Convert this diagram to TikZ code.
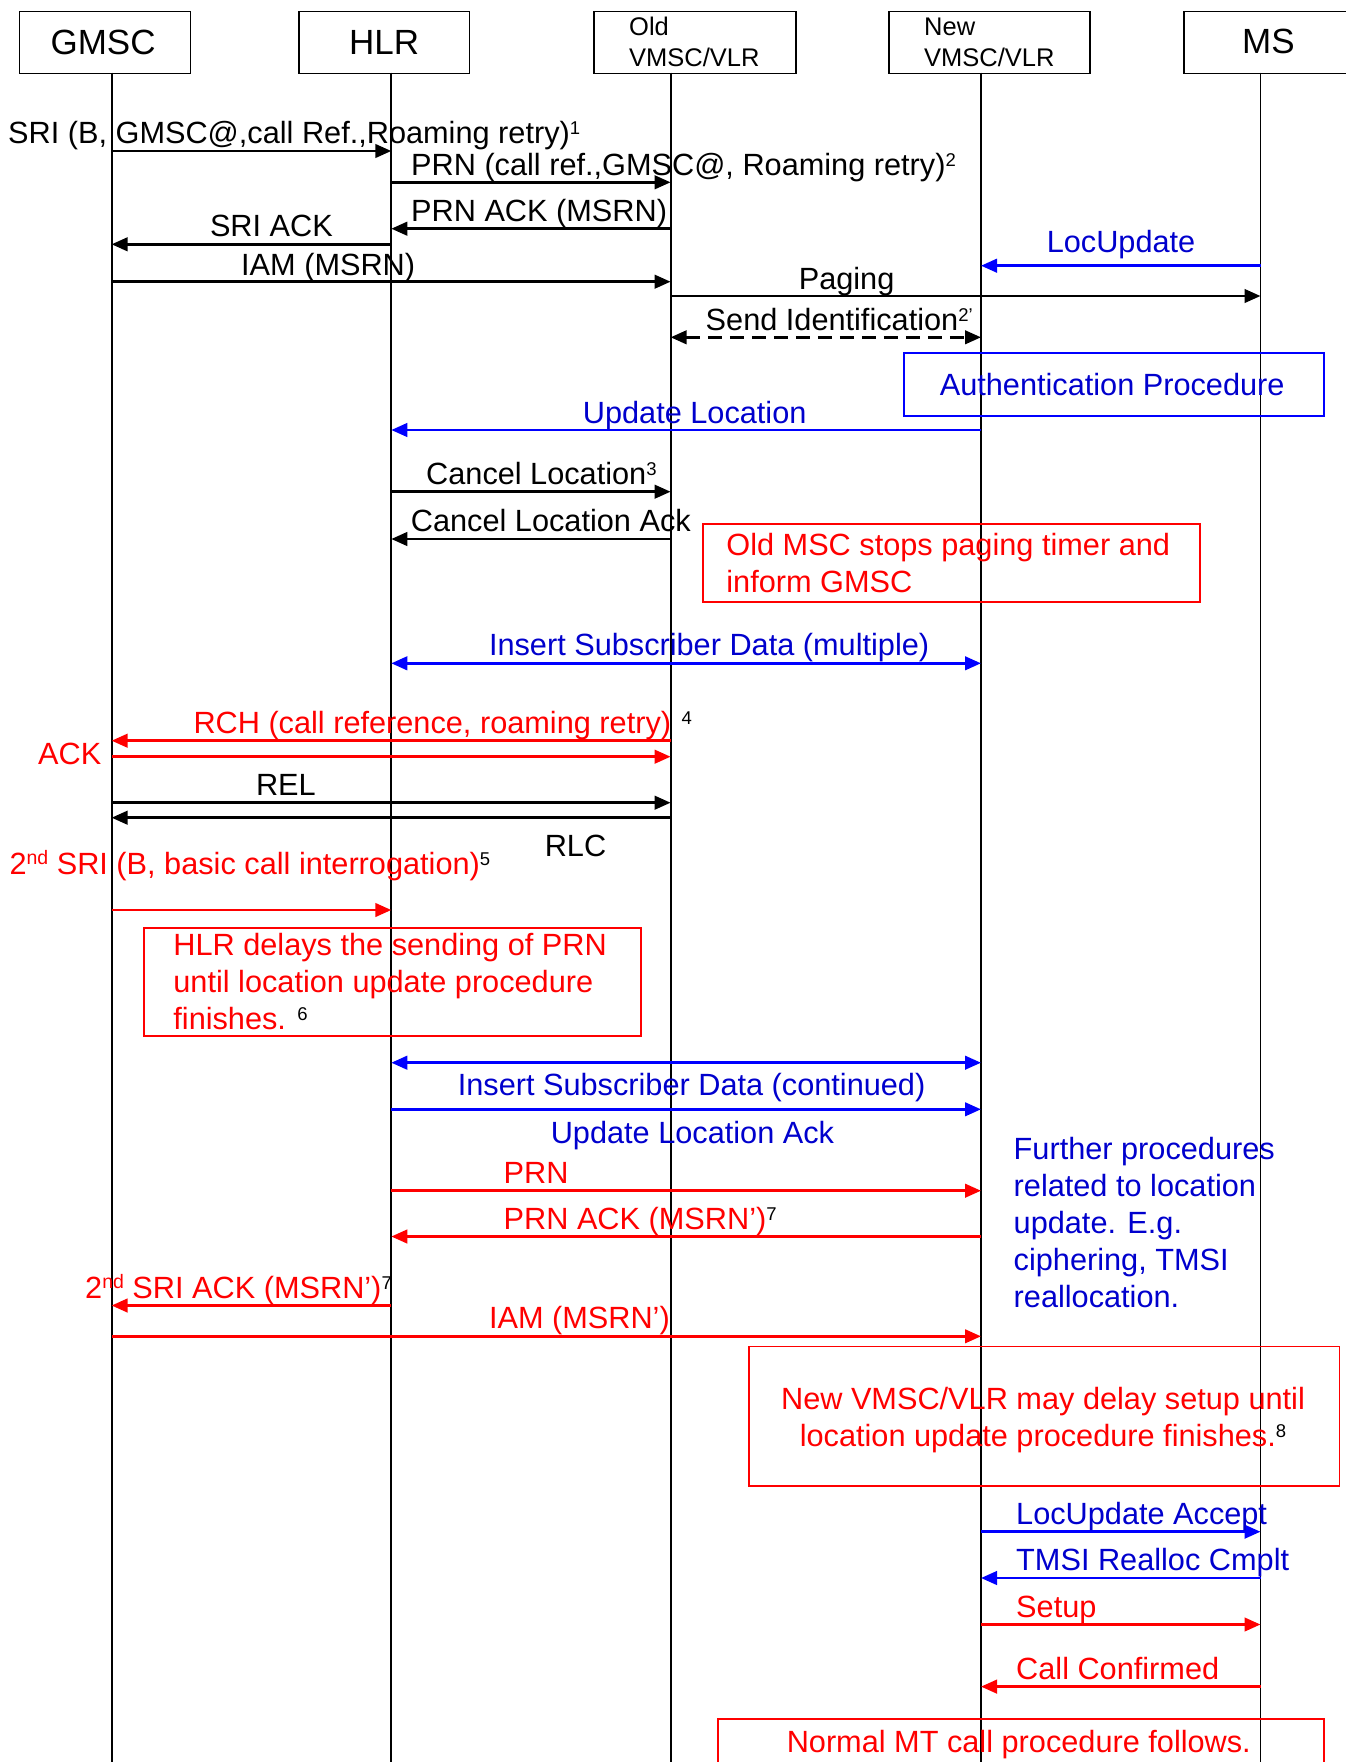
\documentclass[tikz,border=0pt]{standalone}
\usepackage{fontspec}
\setmainfont{Liberation Sans}
\usetikzlibrary{arrows.meta}
\definecolor{sigred}{RGB}{255,0,0}
\definecolor{sigblue}{RGB}{0,0,255}
\definecolor{txtblue}{RGB}{0,0,205}
% footnote marks and ordinal suffix
\newcommand\fnote[1]{\raisebox{9pt}{\fontsize{18.5}{18.5}\selectfont\color{black}#1}}
\newcommand\ordnd{\raisebox{10pt}{\fontsize{19.5}{19.5}\selectfont nd}}
\begin{document}
\begin{tikzpicture}[x=1pt,y=-1pt,
  entity/.style={draw, line width=1.7pt, inner sep=0, anchor=north west},
  title/.style={anchor=base west, inner sep=0, font=\fontsize{35}{40}\selectfont},
  subtitle/.style={anchor=base west, inner sep=0, font=\fontsize{25.5}{30}\selectfont},
  lbl/.style={anchor=base west, inner sep=0, font=\fontsize{30.7}{36}\selectfont},
  clbl/.style={lbl, anchor=base},
  redtxt/.style={text=sigred},
  bluetxt/.style={text=txtblue},
  lifeline/.style={line width=1.8pt},
  sig/.style={line width=2.7pt, -{Triangle[length=16pt,width=13.5pt]}},
  sigboth/.style={line width=2.7pt, {Triangle[length=16pt,width=13.5pt]}-{Triangle[length=16pt,width=13.5pt]}},
  notebox/.style={draw, line width=1.8pt, inner sep=0, anchor=north west},
]
\useasboundingbox (0,0) rectangle (1345,1762);

% ---- entities ----
\node[entity, minimum width=171pt, minimum height=62pt] (gmsc) at (18.75,10.7) {};
\node[entity, minimum width=170.5pt, minimum height=62pt] (hlr) at (298.2,10.7) {};
\node[entity, minimum width=202pt, minimum height=62pt] (ovlr) at (592.8,10.7) {};
\node[entity, minimum width=201.4pt, minimum height=62pt] (nvlr) at (888,10.7) {};
\node[entity, minimum width=170pt, minimum height=62pt] (ms) at (1183.4,10.7) {};

\node[title] (tG) at (50.4,54) {GMSC};
\node[title] (tH) at (349,54) {HLR};
\node[subtitle] (tO1) at (629,35) {Old};
\node[subtitle] (tO2) at (629,66.7) {VMSC/VLR};
\node[subtitle] (tN1) at (924,35) {New};
\node[subtitle] (tN2) at (924,66.7) {VMSC/VLR};
\node[title] (tM) at (1242,53.3) {MS};

% ---- lifelines ----
\coordinate (gL) at (111.6,72.7);
\coordinate (hL) at (391.3,72.7);
\coordinate (oL) at (670.6,72.7);
\coordinate (nL) at (981,72.7);
\coordinate (mL) at (1260.5,72.7);
\foreach \c in {gL,hL,oL,nL,mL}
  \draw[lifeline] (\c) -- (\c |- 0,1775);

% ---- first interrogation ----
\draw[sig] (gL |- 0,151) -- (hL |- 0,151);
\node[lbl] (m1) at (8,143) {SRI (B, GMSC@,call Ref.,Roaming retry)\fnote{1}};
\draw[sig] (hL |- 0,182.3) -- (oL |- 0,182.3);
\node[lbl] (m2) at (411,175) {PRN (call ref.,GMSC@, Roaming retry)\fnote{2}};
\draw[sig] (oL |- 0,228.7) -- (hL |- 0,228.7);
\node[lbl] (m3) at (411,221.7) {PRN ACK (MSRN)};
\draw[sig] (hL |- 0,244.3) -- (gL |- 0,244.3);
\node[lbl] (m4) at (209.8,236) {SRI ACK};
\draw[sig] (gL |- 0,281.7) -- (oL |- 0,281.7);
\node[lbl] (m5) at (241,275) {IAM (MSRN)};
\draw[sig, sigblue] (mL |- 0,265.7) -- (nL |- 0,265.7);
\node[lbl, bluetxt] (m6) at (1046.6,252.7) {LocUpdate};
\draw[sig] (oL |- 0,296) -- (mL |- 0,296);
\node[lbl] (m7) at (798.6,289) {Paging};
\draw[sigboth, dash pattern=on 14pt off 8pt] (oL |- 0,337.3) -- (nL |- 0,337.3);
\node[lbl] (m8) at (705.5,330) {Send Identification\fnote{2’}};

\node[notebox, draw=sigblue, minimum width=420pt, minimum height=62.4pt] (auth) at (903,352.3) {};
\node[lbl, bluetxt] (authT) at (939.6,395) {Authentication Procedure};

\draw[sig, sigblue] (nL |- 0,430) -- (hL |- 0,430);
\node[lbl, bluetxt] (m9) at (582.7,423.3) {Update Location};
\draw[sig] (hL |- 0,491.7) -- (oL |- 0,491.7);
\node[lbl] (m10) at (426,484) {Cancel Location\fnote{3}};
\draw[sig] (oL |- 0,539) -- (hL |- 0,539);
\node[lbl] (m11) at (410.7,531) {Cancel Location Ack};

\node[notebox, draw=sigred, minimum width=496.8pt, minimum height=77.7pt] (stop) at (701.9,523.3) {};
\node[lbl, redtxt] (stopT1) at (726.2,555) {Old MSC stops paging timer and};
\node[lbl, redtxt] (stopT2) at (726.2,592.3) {inform GMSC};

\draw[sigboth, sigblue] (hL |- 0,663.3) -- (nL |- 0,663.3);
\node[lbl, bluetxt] (m12) at (488.8,655) {Insert Subscriber Data (multiple)};

% ---- roaming retry ----
\draw[sig, sigred] (oL |- 0,740.7) -- (gL |- 0,740.7);
\node[lbl, redtxt] (m13) at (193.3,733.3) {RCH (call reference, roaming retry)\hspace{10.5pt}\fnote{4}};
\draw[sig, sigred] (gL |- 0,756.7) -- (oL |- 0,756.7);
\node[lbl, redtxt] (m14) at (38,764.3) {ACK};
\draw[sig] (gL |- 0,802.7) -- (oL |- 0,802.7);
\node[lbl] (m15) at (255.8,795) {REL};
\draw[sig] (oL |- 0,817.7) -- (gL |- 0,817.7);
\node[lbl] (m16) at (544.6,856.7) {RLC};

\node[lbl, redtxt] (m17) at (9.3,874) {2\ordnd{} SRI (B, basic call interrogation)\fnote{5}};
\draw[sig, sigred] (gL |- 0,910) -- (hL |- 0,910);

\node[notebox, draw=sigred, minimum width=496.8pt, minimum height=108.3pt] (delay) at (142.9,926.7) {};
\node[lbl, redtxt] (delayT1) at (173.2,955) {HLR delays the sending of PRN};
\node[lbl, redtxt] (delayT2) at (173.2,992.3) {until location update procedure};
\node[lbl, redtxt] (delayT3) at (173.2,1029.3) {finishes. \fnote{6}};

\draw[sigboth, sigblue] (hL |- 0,1062.7) -- (nL |- 0,1062.7);
\node[lbl, bluetxt] (m18) at (457.6,1095) {Insert Subscriber Data (continued)};
\draw[sig, sigblue] (hL |- 0,1109.3) -- (nL |- 0,1109.3);
\node[lbl, bluetxt] (m19) at (550.6,1143.3) {Update Location Ack};

\draw[sig, sigred] (hL |- 0,1190.7) -- (nL |- 0,1190.7);
\node[lbl, redtxt] (m20) at (503.5,1183.3) {PRN};
\draw[sig, sigred] (nL |- 0,1236.5) -- (hL |- 0,1236.5);
\node[lbl, redtxt] (m21) at (503.5,1229.5) {PRN ACK (MSRN’)\fnote{7}};
\draw[sig, sigred] (hL |- 0,1305.5) -- (gL |- 0,1305.5);
\node[lbl, redtxt] (m22) at (85,1298.3) {2\ordnd{} SRI ACK (MSRN’)\fnote{7}};
\draw[sig, sigred] (gL |- 0,1336.3) -- (nL |- 0,1336.3);
\node[lbl, redtxt] (m23) at (488.8,1328.3) {IAM (MSRN’)};

\node[lbl, bluetxt] (fp1) at (1013.5,1159) {Further procedures};
\node[lbl, bluetxt] (fp2) at (1013.5,1196.2) {related to location};
\node[lbl, bluetxt] (fp3) at (1013.5,1233.4) {update. E.g.};
\node[lbl, bluetxt] (fp4) at (1013.5,1270.5) {ciphering, TMSI};
\node[lbl, bluetxt] (fp5) at (1013.5,1307.6) {reallocation.};

\node[notebox, draw=sigred, minimum width=590.5pt, minimum height=139.3pt] (setupdelay) at (748,1345.6) {};
\node[clbl, redtxt] (sdT1) at (1043,1409.3) {New VMSC/VLR may delay setup until};
\node[clbl, redtxt] (sdT2) at (1043,1446) {location update procedure finishes.\fnote{8}};

% ---- radio side ----
\draw[sig, sigblue] (nL |- 0,1531.7) -- (mL |- 0,1531.7);
\node[lbl, bluetxt] (m24) at (1016,1524) {LocUpdate Accept};
\draw[sig, sigblue] (mL |- 0,1578) -- (nL |- 0,1578);
\node[lbl, bluetxt] (m25) at (1016,1570.5) {TMSI Realloc Cmplt};
\draw[sig, sigred] (nL |- 0,1624.5) -- (mL |- 0,1624.5);
\node[lbl, redtxt] (m26) at (1016,1617) {Setup};
\draw[sig, sigred] (mL |- 0,1686.6) -- (nL |- 0,1686.6);
\node[lbl, redtxt] (m27) at (1016,1679) {Call Confirmed};

\node[notebox, draw=sigred, minimum width=606pt, minimum height=90pt] (normal) at (717.3,1718.2) {};
\node[clbl, redtxt] (normalT) at (1018.8,1752) {Normal MT call procedure follows.};
\end{tikzpicture}
\end{document}
